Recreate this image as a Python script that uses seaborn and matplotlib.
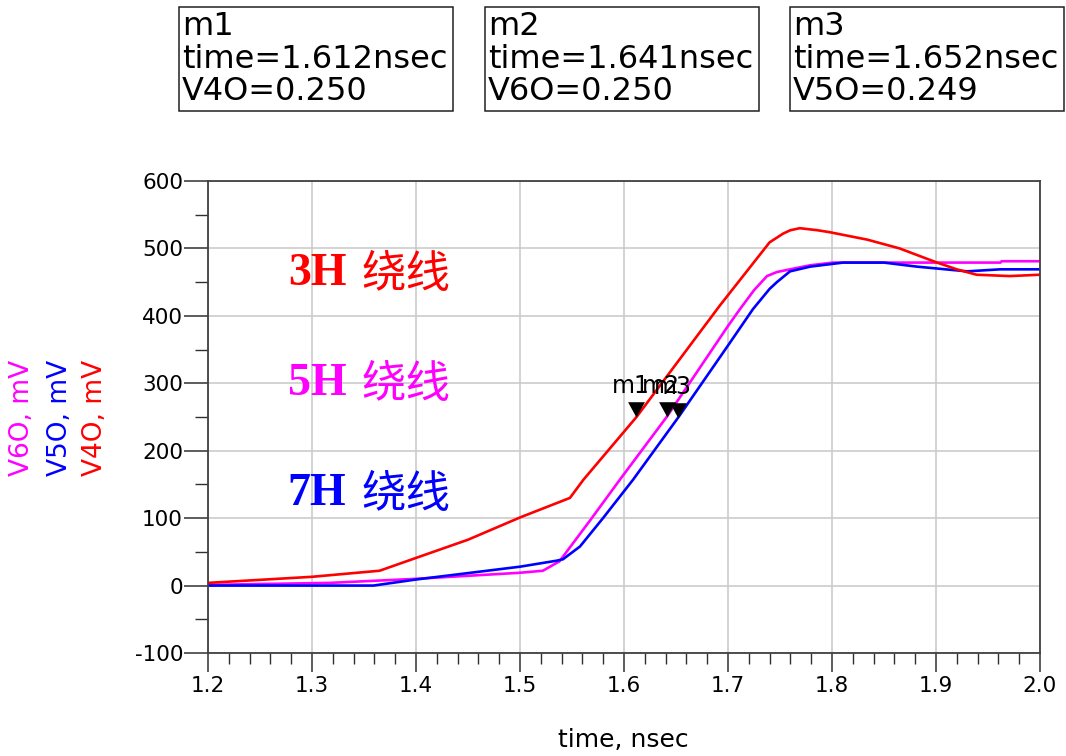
import numpy as np
import pandas as pd
import matplotlib
matplotlib.use("Agg")
import matplotlib.pyplot as plt
from matplotlib.patches import Rectangle
from matplotlib.ticker import MultipleLocator, FormatStrFormatter
import seaborn as sns

# transient response, time in nsec, voltage in mV
t_v4o = [1.20, 1.30, 1.365, 1.40, 1.45, 1.50, 1.548, 1.561, 1.612, 1.692, 1.740,
         1.753, 1.760, 1.769, 1.786, 1.798, 1.834, 1.865, 1.901, 1.920, 1.939, 1.971, 2.00]
v_v4o = [4, 13, 22, 41, 68, 101, 130, 157, 250, 415, 509,
         522, 527, 530, 527, 524, 513, 500, 479, 469, 461, 459, 461]

t_v6o = [1.20, 1.317, 1.40, 1.50, 1.522, 1.538, 1.569, 1.596, 1.641, 1.700, 1.7115,
         1.725, 1.7375, 1.747, 1.7596, 1.779, 1.801, 1.90, 1.962, 1.963, 2.00]
v_v6o = [1, 4, 10, 19, 22, 36, 100, 157, 250, 385, 410,
         438, 459, 465, 469, 475, 479, 479, 479, 481, 481]

t_v5o = [1.20, 1.359, 1.40, 1.50, 1.5356, 1.5413, 1.5577, 1.5798, 1.6087, 1.652, 1.700,
         1.724, 1.740, 1.747, 1.7596, 1.779, 1.8106, 1.85, 1.8817, 1.930, 1.9615, 2.00]
v_v5o = [0, 0, 9, 28, 37, 39, 58, 100, 157, 249, 356,
         410, 440, 450, 466, 473, 479, 479, 473, 466, 469, 469]

marker_names = ["m1", "m2", "m3"]
marker_t = [1.612, 1.641, 1.652]
marker_v = [250, 250, 249]
marker_sig = ["V4O", "V6O", "V5O"]
marker_read = ["0.250", "0.250", "0.249"]

curve_labels = ["3H 绕线", "5H 绕线", "7H 绕线"]

colors = {"V6O": "#ff00ff", "V5O": "#0000ff", "V4O": "#ff0000"}

df = pd.concat([
    pd.DataFrame({"time": t_v6o, "mV": v_v6o, "sig": "V6O"}),
    pd.DataFrame({"time": t_v5o, "mV": v_v5o, "sig": "V5O"}),
    pd.DataFrame({"time": t_v4o, "mV": v_v4o, "sig": "V4O"}),
], ignore_index=True)

sns.set_theme(style="white")
plt.rcParams["font.family"] = ["DejaVu Sans"]
plt.rcParams["axes.unicode_minus"] = False

W, H = 1066, 756
fig = plt.figure(figsize=(W / 100, H / 100), dpi=100)
fig.patch.set_facecolor("white")
ax = fig.add_axes([208 / W, 103 / H, 832 / W, 472 / H])

sns.lineplot(data=df, x="time", y="mV", hue="sig", hue_order=["V6O", "V5O", "V4O"],
             palette=colors, estimator=None, sort=False, lw=1.9, legend=False, ax=ax)

ax.set_xlim(1.2, 2.0)
ax.set_ylim(-100, 600)
ax.xaxis.set_major_locator(MultipleLocator(0.1))
ax.xaxis.set_minor_locator(MultipleLocator(0.02))
ax.yaxis.set_major_locator(MultipleLocator(100))
ax.yaxis.set_minor_locator(MultipleLocator(50))
ax.xaxis.set_major_formatter(FormatStrFormatter("%.1f"))
ax.set_xlabel(""); ax.set_ylabel("")

ax.grid(True, which="major", color="#c8c8c8", lw=1.1)
ax.set_axisbelow(True)
for s in ax.spines.values():
    s.set_visible(True); s.set_color("#404040"); s.set_linewidth(1.3)

ax.tick_params(axis="x", which="major", direction="out", length=13.7, width=1.1,
               color="#303030", pad=3, labelsize=15.5, labelcolor="black", bottom=True)
ax.tick_params(axis="x", which="minor", direction="out", length=8, width=1.0,
               color="#303030", bottom=True)
ax.tick_params(axis="y", which="major", direction="out", length=17, width=1.1,
               color="#303030", pad=1, labelsize=15.5, labelcolor="black", left=True)
ax.tick_params(axis="y", which="minor", direction="out", length=9.4, width=1.0,
               color="#303030", left=True)

# marker triangles, tip at the data point
tri = [(-0.55, 1.0), (0.55, 1.0), (0.0, 0.0), (-0.55, 1.0)]
ax.plot(marker_t, marker_v, ls="none", marker=tri, ms=22, mew=0, color="black", zorder=5)
for name, t, v in zip(marker_names, marker_t, marker_v):
    ax.annotate(name, (t, v), xytext=(-4, 17.3), textcoords="offset points",
                ha="center", va="baseline", fontsize=17, color="black", zorder=6)

# curve captions
for lab, yf, c in zip(curve_labels, [0.803, 0.569, 0.336], ["#ff0000", "#ff00ff", "#0000ff"]):
    num, cn = lab.split(" ")
    ax.text(0.096, yf, num, transform=ax.transAxes, ha="left", va="center",
            fontsize=33, fontweight="bold", family=["Liberation Serif", "DejaVu Serif"], color=c)
    ax.text(0.1847, yf, cn, transform=ax.transAxes, ha="left", va="center",
            fontsize=32, family=["Noto Sans CJK SC", "DejaVu Sans"], color=c)

# marker readout boxes
box_x = [179, 485, 790]
for x0, name, t, sig, val in zip(box_x, marker_names, marker_t, marker_sig, marker_read):
    fig.add_artist(Rectangle((x0 / W, 1 - 111 / H), 274 / W, 104 / H, transform=fig.transFigure,
                             fill=False, ec="#202020", lw=1.1))
    lines = [name, f"time={t:.3f}nsec", f"{sig}={val}"]
    for ln, yb in zip(lines, [35, 68, 100]):
        fig.text((x0 + 3) / W, 1 - yb / H, ln, ha="left", va="baseline", fontsize=23, color="black")

# stacked y labels
for txt, xp, c in zip(["V6O, mV", "V5O, mV", "V4O, mV"], [22, 60, 95], ["#ff00ff", "#0000ff", "#ff0000"]):
    fig.text(xp / W, 1 - 418 / H, txt, rotation=90, ha="center", va="center", fontsize=19, color=c)

fig.text(623 / W, 1 - 740 / H, "time, nsec", ha="center", va="center", fontsize=18, color="black")

fig.savefig("out.png", dpi=100)
